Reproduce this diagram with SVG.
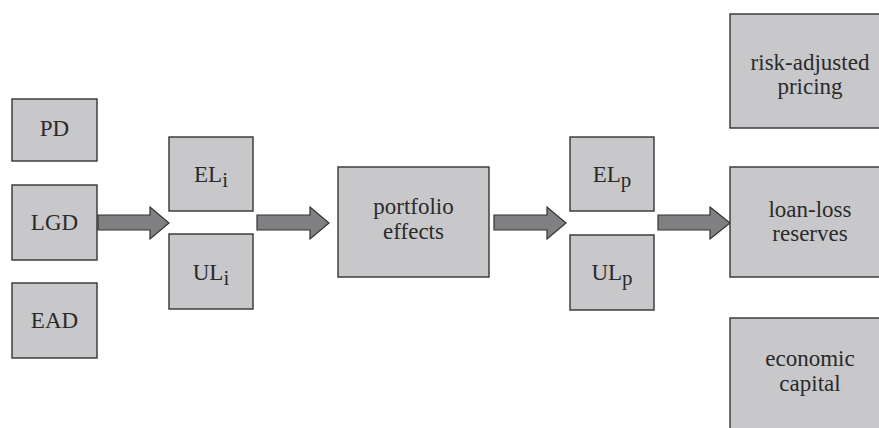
<svg xmlns="http://www.w3.org/2000/svg" width="879" height="428" viewBox="0 0 879 428">
<style>
.box{fill:#c8c8ca;stroke:#333333;stroke-width:1.4}
.arr{fill:#808082;stroke:#333333;stroke-width:1.2;stroke-linejoin:miter}
.lbl{font-size:23px;fill:#2a2a2a;text-anchor:middle}
.sub{font-size:21px}
</style>
<rect width="879" height="428" fill="#ffffff"/>
<g id="connectors">
<polygon class="arr" points="98,215 150,215 150,207 169,223 150,239 150,230 98,230"/>
<polygon class="arr" points="257,215 310,215 310,207 329,223 310,239 310,230 257,230"/>
<polygon class="arr" points="494,215 547,215 547,207 566,223 547,239 547,230 494,230"/>
<polygon class="arr" points="658,215 710,215 710,207 730,223 710,239 710,230 658,230"/>
</g>
<g id="pd"><rect class="box" x="12" y="99" width="85" height="62"/><text class="lbl" font-family="Liberation Serif" x="54.5" y="136">PD</text></g>
<g id="lgd"><rect class="box" x="12" y="185" width="85" height="75"/><text class="lbl" font-family="Liberation Serif" x="54.5" y="230">LGD</text></g>
<g id="ead"><rect class="box" x="12" y="283" width="85" height="75"/><text class="lbl" font-family="Liberation Serif" x="54.5" y="328">EAD</text></g>
<g id="eli"><rect class="box" x="169" y="137" width="84" height="74"/><text class="lbl" font-family="Liberation Serif" x="211" y="182">EL<tspan class="sub" dy="5">i</tspan></text></g>
<g id="uli"><rect class="box" x="169" y="234" width="84" height="75"/><text class="lbl" font-family="Liberation Serif" x="211" y="280">UL<tspan class="sub" dy="5">i</tspan></text></g>
<g id="portfolio"><rect class="box" x="338" y="167" width="151" height="110"/><text class="lbl" font-family="Liberation Serif" x="413.5" y="214">portfolio</text><text class="lbl" font-family="Liberation Serif" x="413.5" y="239">effects</text></g>
<g id="elp"><rect class="box" x="570" y="137" width="84" height="74"/><text class="lbl" font-family="Liberation Serif" x="612" y="182">EL<tspan class="sub" dy="5">p</tspan></text></g>
<g id="ulp"><rect class="box" x="570" y="235" width="84" height="75"/><text class="lbl" font-family="Liberation Serif" x="612" y="280">UL<tspan class="sub" dy="5">p</tspan></text></g>
<g id="pricing"><rect class="box" x="730" y="14" width="160" height="114"/><text class="lbl" font-family="Liberation Serif" x="810" y="70">risk-adjusted</text><text class="lbl" font-family="Liberation Serif" x="810" y="94">pricing</text></g>
<g id="reserves"><rect class="box" x="730" y="167" width="160" height="110"/><text class="lbl" font-family="Liberation Serif" x="810" y="217">loan-loss</text><text class="lbl" font-family="Liberation Serif" x="810" y="241">reserves</text></g>
<g id="capital"><rect class="box" x="730" y="318" width="160" height="120"/><text class="lbl" font-family="Liberation Serif" x="810" y="366">economic</text><text class="lbl" font-family="Liberation Serif" x="810" y="391">capital</text></g>
</svg>
